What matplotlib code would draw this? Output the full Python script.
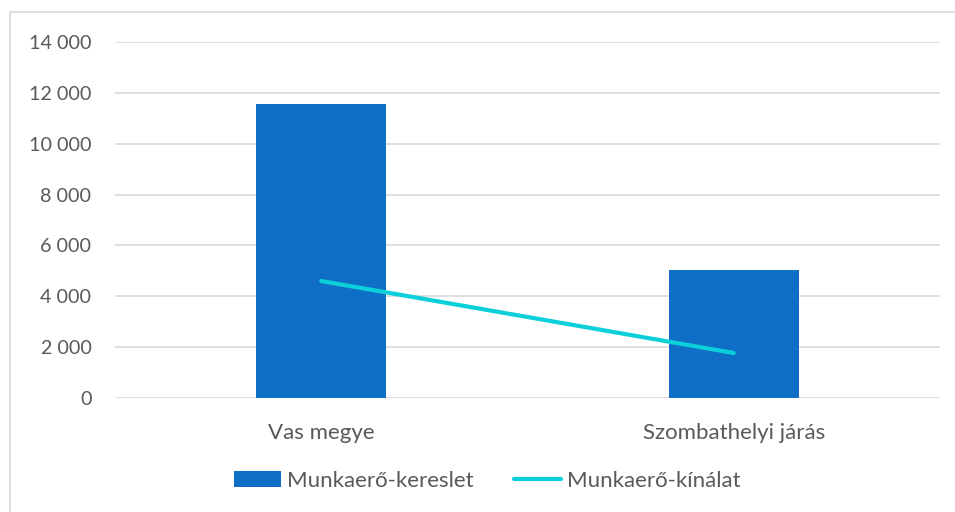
import matplotlib.pyplot as plt
from matplotlib.patches import Rectangle
from matplotlib.ticker import FuncFormatter

categories = ['Vas megye', 'Szombathelyi járás']
kereslet = [11550, 5030]
kinalat = [4600, 1770]
y_ticks = [0, 2000, 4000, 6000, 8000, 10000, 12000, 14000]

plt.rcParams['font.family'] = ['Lato', 'DejaVu Sans']

fig = plt.figure(figsize=(9.55, 5.12), dpi=100)
ax = fig.add_axes([115 / 955, 1 - 398 / 512, 825 / 955, 356 / 512])

# outer chart frame (cut off at right/bottom like the reference)
fig.patches.append(Rectangle((10 / 955, -0.1), 1.2, 1 - 12 / 512 + 0.1,
                             transform=fig.transFigure, fill=False,
                             edgecolor='#D9D9D9', linewidth=1.2))

x = range(len(categories))
bars = ax.bar(x, kereslet, width=0.315, color='#0F6FC6', label='Munkaerő-kereslet', zorder=2)
line, = ax.plot(x, kinalat, color='#0BD0D9', linewidth=3, solid_capstyle='round',
                label='Munkaerő-kínálat', zorder=3)

ax.set_xlim(-0.5, 1.5)
ax.set_ylim(0, 14000)
ax.set_yticks(y_ticks)
ax.yaxis.set_major_formatter(FuncFormatter(lambda v, p: f'{int(v):,}'.replace(',', ' ')))
ax.set_xticks(list(x))
ax.set_xticklabels(categories)
ax.tick_params(axis='both', length=0, colors='#595959')
ax.tick_params(axis='y', labelsize=14.2, pad=17)
ax.tick_params(axis='x', labelsize=16, pad=18)
ax.grid(axis='y', color='#D9D9D9', linewidth=1.2, zorder=0)
for s in ax.spines.values():
    s.set_visible(False)

fig.legend([bars, line], ['Munkaerő-kereslet', 'Munkaerő-kínálat'],
           loc='center', bbox_to_anchor=(0.51, 1 - 481 / 512), ncol=2, frameon=False,
           fontsize=16, handlelength=2.15, handletextpad=0.25, columnspacing=1.8,
           labelcolor='#595959')

fig.savefig('out.png', dpi=100)
